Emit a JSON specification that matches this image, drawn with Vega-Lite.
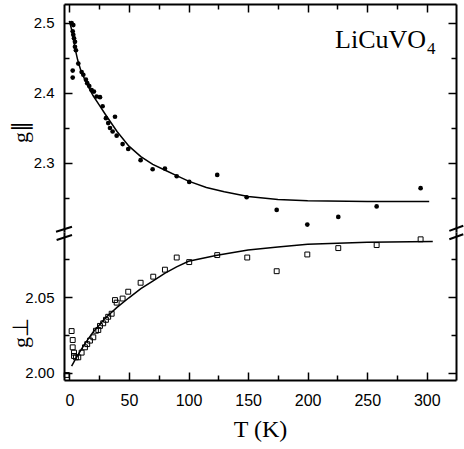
{
  "$schema": "https://vega.github.io/schema/vega-lite/v6.json",
  "background": "white",
  "padding": {"left": 9, "top": 3, "right": 0, "bottom": 12},
  "spacing": 0,
  "bounds": "flush",
  "config": {
    "view": {"stroke": null},
    "axis": {
      "domainColor": "black", "domainWidth": 2, "tickColor": "black", "tickWidth": 1.5,
      "labelFont": "Liberation Sans", "labelColor": "black",
      "titleFont": "Liberation Serif", "titleFontWeight": "normal", "titleColor": "black", "grid": false
    }
  },
  "datasets": {
    "gpar": [
      {"T": 1.9, "g": 2.500}, {"T": 3.3, "g": 2.497}, {"T": 2.8, "g": 2.488}, {"T": 3.3, "g": 2.483},
      {"T": 3.9, "g": 2.478}, {"T": 4.7, "g": 2.473}, {"T": 4.7, "g": 2.466}, {"T": 5.5, "g": 2.461},
      {"T": 7.5, "g": 2.442}, {"T": 2.8, "g": 2.432}, {"T": 2.8, "g": 2.422}, {"T": 10.3, "g": 2.430},
      {"T": 11.7, "g": 2.426}, {"T": 13.9, "g": 2.419}, {"T": 15.0, "g": 2.414}, {"T": 16.7, "g": 2.410},
      {"T": 18.7, "g": 2.404}, {"T": 20.6, "g": 2.402}, {"T": 22.9, "g": 2.395}, {"T": 25.7, "g": 2.394},
      {"T": 27.9, "g": 2.381}, {"T": 30.7, "g": 2.364}, {"T": 32.6, "g": 2.357}, {"T": 34.1, "g": 2.350},
      {"T": 36.3, "g": 2.345}, {"T": 38.3, "g": 2.366}, {"T": 39.7, "g": 2.339}, {"T": 44.7, "g": 2.327},
      {"T": 49.4, "g": 2.320}, {"T": 59.8, "g": 2.304}, {"T": 69.9, "g": 2.291}, {"T": 80.2, "g": 2.292},
      {"T": 90.1, "g": 2.281}, {"T": 100.6, "g": 2.273}, {"T": 124.1, "g": 2.283}, {"T": 148.8, "g": 2.251},
      {"T": 174.0, "g": 2.233}, {"T": 199.7, "g": 2.212}, {"T": 225.7, "g": 2.223}, {"T": 257.9, "g": 2.238},
      {"T": 294.8, "g": 2.264}
    ],
    "gparfit": [
      {"T": 0, "g": 2.503}, {"T": 2, "g": 2.490}, {"T": 5, "g": 2.462}, {"T": 7, "g": 2.447},
      {"T": 10, "g": 2.430}, {"T": 15, "g": 2.412}, {"T": 20, "g": 2.396}, {"T": 25, "g": 2.383},
      {"T": 30, "g": 2.370}, {"T": 40, "g": 2.345}, {"T": 50, "g": 2.324}, {"T": 60, "g": 2.309},
      {"T": 70, "g": 2.298}, {"T": 80, "g": 2.290}, {"T": 90, "g": 2.282}, {"T": 100, "g": 2.274},
      {"T": 115, "g": 2.265}, {"T": 130, "g": 2.259}, {"T": 150, "g": 2.252}, {"T": 175, "g": 2.248},
      {"T": 200, "g": 2.246}, {"T": 250, "g": 2.245}, {"T": 302, "g": 2.245}
    ],
    "gperp": [
      {"T": 1.9, "g": 2.0276}, {"T": 2.8, "g": 2.0217}, {"T": 2.8, "g": 2.0169}, {"T": 3.9, "g": 2.0134},
      {"T": 3.9, "g": 2.0112}, {"T": 5.5, "g": 2.0103}, {"T": 7.5, "g": 2.0103}, {"T": 10.3, "g": 2.0134},
      {"T": 13.1, "g": 2.0169}, {"T": 15.0, "g": 2.0190}, {"T": 17.3, "g": 2.0213}, {"T": 20.1, "g": 2.0235},
      {"T": 22.3, "g": 2.0278}, {"T": 24.3, "g": 2.0283}, {"T": 25.7, "g": 2.0310}, {"T": 28.4, "g": 2.0327},
      {"T": 30.7, "g": 2.0350}, {"T": 32.6, "g": 2.0370}, {"T": 35.5, "g": 2.0390}, {"T": 38.3, "g": 2.0480},
      {"T": 39.7, "g": 2.0463}, {"T": 44.7, "g": 2.0490}, {"T": 49.4, "g": 2.0535}, {"T": 59.8, "g": 2.0594},
      {"T": 70.4, "g": 2.0634}, {"T": 80.2, "g": 2.0680}, {"T": 90.1, "g": 2.0760}, {"T": 100.6, "g": 2.0730},
      {"T": 124.1, "g": 2.0776}, {"T": 149.3, "g": 2.0760}, {"T": 174.0, "g": 2.0670}, {"T": 199.7, "g": 2.0780},
      {"T": 225.7, "g": 2.0822}, {"T": 257.9, "g": 2.0842}, {"T": 294.8, "g": 2.0880}, {"T": -2.3, "g": 1.9987}
    ],
    "gperpfit": [
      {"T": 1.9, "g": 2.0045}, {"T": 5, "g": 2.009}, {"T": 10, "g": 2.0155}, {"T": 15, "g": 2.0215},
      {"T": 20, "g": 2.027}, {"T": 25, "g": 2.0315}, {"T": 30, "g": 2.036}, {"T": 40, "g": 2.0432},
      {"T": 50, "g": 2.0495}, {"T": 60, "g": 2.0555}, {"T": 70, "g": 2.0605}, {"T": 80, "g": 2.0656},
      {"T": 90, "g": 2.0698}, {"T": 100, "g": 2.0735}, {"T": 124, "g": 2.0775}, {"T": 150, "g": 2.081},
      {"T": 175, "g": 2.083}, {"T": 200, "g": 2.0848}, {"T": 250, "g": 2.086}, {"T": 305, "g": 2.0865}
    ],
    "breaks": [
      {"x1": -11.2, "y1": 2.0930, "x2": 2.2, "y2": 2.0963},
      {"x1": -10.7, "y1": 2.0875, "x2": 2.2, "y2": 2.0908},
      {"x1": 318.9, "y1": 2.0935, "x2": 330.6, "y2": 2.0969},
      {"x1": 318.9, "y1": 2.0880, "x2": 330.6, "y2": 2.0913}
    ],
    "label": [{"T": 223, "g": 2.4636, "text": "LiCuVO"}]
  },
  "vconcat": [
    {
      "width": 392,
      "height": 228,
      "layer": [
        {
          "data": {"name": "gpar"},
          "mark": {"type": "point", "shape": "circle", "filled": true, "color": "black", "opacity": 1, "size": 22},
          "encoding": {
            "x": {"field": "T", "type": "quantitative",
              "scale": {"domain": [-4.5, 324.5], "nice": false, "zero": false},
              "axis": {"orient": "top", "values": [0,25,50,75,100,125,150,175,200,225,250,275,300], "labels": false, "title": null,
                "tickSize": {"condition": {"test": "datum.value % 50 === 0", "value": -8}, "value": -5}}},
            "y": {"field": "g", "type": "quantitative",
              "scale": {"domain": [2.2014, 2.5271], "nice": false, "zero": false},
              "axis": {"orient": "left", "values": [2.25,2.3,2.35,2.4,2.45,2.5],
                "labelExpr": "abs(datum.value*10 - round(datum.value*10)) < 0.001 ? format(datum.value, '.1f') : ''",
                "labelFontSize": 15, "labelPadding": 18,
                "tickSize": {"condition": {"test": "abs(datum.value*10 - round(datum.value*10)) < 0.001", "value": -8}, "value": -5},
                "title": "g∥", "titleFontSize": 22, "titleAngle": 270, "titleAlign": "center", "titleBaseline": "alphabetic",
                "titleX": -37, "titleY": 127.5}}
          }
        },
        {
          "data": {"name": "gparfit"},
          "mark": {"type": "line", "color": "black", "strokeWidth": 1.5},
          "encoding": {
            "x": {"field": "T", "type": "quantitative", "axis": null},
            "y": {"field": "g", "type": "quantitative",
              "axis": {"orient": "right", "values": [2.25,2.3,2.35,2.4,2.45,2.5], "labels": false, "title": null,
                "tickSize": {"condition": {"test": "abs(datum.value*10 - round(datum.value*10)) < 0.001", "value": -8}, "value": -5}}}
          }
        },
        {
          "data": {"name": "label"},
          "mark": {"type": "text", "font": "Liberation Serif", "fontSize": 26, "align": "left", "baseline": "alphabetic", "color": "black"},
          "encoding": {
            "x": {"field": "T", "type": "quantitative", "axis": null},
            "y": {"field": "g", "type": "quantitative", "axis": null},
            "text": {"field": "text"}
          }
        },
        {
          "data": {"name": "label"},
          "mark": {"type": "text", "font": "Liberation Serif", "fontSize": 17, "align": "left", "baseline": "alphabetic", "color": "black", "dx": 92, "dy": 6},
          "encoding": {
            "x": {"field": "T", "type": "quantitative", "axis": null},
            "y": {"field": "g", "type": "quantitative", "axis": null},
            "text": {"value": "4"}
          }
        }
      ],
      "resolve": {"axis": {"x": "independent", "y": "independent"}}
    },
    {
      "width": 392,
      "height": 148,
      "layer": [
        {
          "data": {"name": "gperp"},
          "mark": {"type": "point", "shape": "square", "filled": false, "color": "black", "opacity": 1, "size": 24, "strokeWidth": 1},
          "encoding": {
            "x": {"field": "T", "type": "quantitative",
              "scale": {"domain": [-4.5, 324.5], "nice": false, "zero": false},
              "axis": {"orient": "bottom", "values": [0,25,50,75,100,125,150,175,200,225,250,275,300],
                "labelExpr": "datum.value % 50 === 0 ? datum.label : ''",
                "labelFontSize": 16, "labelPadding": 20,
                "tickSize": {"condition": {"test": "datum.value % 50 === 0", "value": -8}, "value": -5},
                "title": "T (K)", "titleFontSize": 24, "titleBaseline": "alphabetic", "titleY": 56, "titleX": 196, "titleAlign": "center"}},
            "y": {"field": "g", "type": "quantitative",
              "scale": {"domain": [1.99539, 2.0928], "nice": false, "zero": false},
              "axis": {"orient": "left", "values": [2.0, 2.025, 2.05, 2.075],
                "labelExpr": "abs(datum.value*20 - round(datum.value*20)) < 0.001 ? format(datum.value, '.2f') : ''",
                "labelFontSize": 15, "labelPadding": 18,
                "tickSize": {"condition": {"test": "abs(datum.value*20 - round(datum.value*20)) < 0.001", "value": -8}, "value": -5},
                "title": "g⊥", "titleFontSize": 22, "titleAngle": 270, "titleAlign": "center", "titleBaseline": "alphabetic",
                "titleX": -37, "titleY": 100.5}}
          }
        },
        {
          "data": {"name": "gperpfit"},
          "mark": {"type": "line", "color": "black", "strokeWidth": 1.5},
          "encoding": {
            "x": {"field": "T", "type": "quantitative", "axis": null},
            "y": {"field": "g", "type": "quantitative",
              "axis": {"orient": "right", "values": [2.0, 2.025, 2.05, 2.075], "labels": false, "title": null,
                "tickSize": {"condition": {"test": "abs(datum.value*20 - round(datum.value*20)) < 0.001", "value": -8}, "value": -5}}}
          }
        },
        {
          "data": {"name": "breaks"},
          "mark": {"type": "rule", "color": "black", "strokeWidth": 2, "clip": false},
          "encoding": {
            "x": {"field": "x1", "type": "quantitative", "axis": null},
            "x2": {"field": "x2"},
            "y": {"field": "y1", "type": "quantitative", "axis": null},
            "y2": {"field": "y2"}
          }
        }
      ],
      "resolve": {"axis": {"x": "independent", "y": "independent"}}
    }
  ]
}
